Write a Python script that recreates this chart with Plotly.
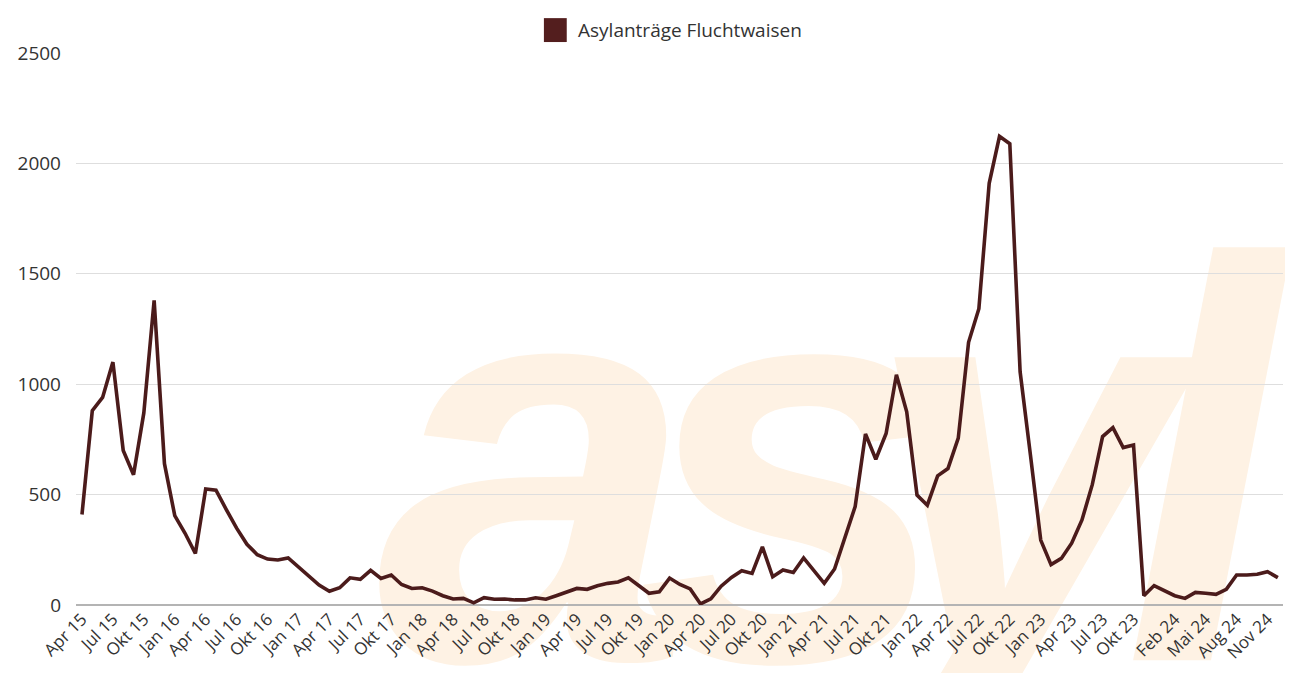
import plotly.graph_objects as go

month_names = ["Jan", "Feb", "Mär", "Apr", "Mai", "Jun", "Jul", "Aug", "Sep", "Okt", "Nov", "Dez"]
months = []
for yr in range(15, 25):
    for m_i, mn in enumerate(month_names):
        if yr == 15 and m_i < 3:
            continue
        months.append(f"{mn} {yr}")

values = [
    410, 880, 940, 1100, 700, 590, 870, 1380, 640, 405,
    325, 233, 525, 520, 432, 348, 275, 228, 208, 204,
    213, 172, 128, 90, 62, 78, 123, 116, 157, 120,
    136, 93, 75, 78, 63, 42, 27, 30, 10, 33,
    26, 27, 23, 23, 33, 26, 42, 57, 75, 71,
    87, 98, 104, 123, 90, 53, 60, 122, 93, 73,
    5, 28, 85, 125, 155, 143, 263, 128, 159, 147,
    213, 154, 98, 163, 300, 446, 775, 660, 777, 1043,
    875, 498, 452, 585, 618, 756, 1190, 1342, 1910, 2123,
    2089, 1056, 680, 294, 183, 211, 280, 385, 545, 763,
    803, 713, 725, 42, 88, 63, 42, 30, 57, 53,
    48, 71, 136, 136, 139, 151, 124,
]

tick_labels = [
    "Apr 15", "Jul 15", "Okt 15", "Jan 16", "Apr 16", "Jul 16", "Okt 16",
    "Jan 17", "Apr 17", "Jul 17", "Okt 17", "Jan 18", "Apr 18", "Jul 18", "Okt 18",
    "Jan 19", "Apr 19", "Jul 19", "Okt 19", "Jan 20", "Apr 20", "Jul 20", "Okt 20",
    "Jan 21", "Apr 21", "Jul 21", "Okt 21", "Jan 22", "Apr 22", "Jul 22", "Okt 22",
    "Jan 23", "Apr 23", "Jul 23", "Okt 23", "Feb 24", "Mai 24", "Aug 24", "Nov 24",
]
y_ticks = [0, 500, 1000, 1500, 2000, 2500]

series_name = "Asylanträge Fluchtwaisen"
watermark_letters = ["a", "s", "y", "l"]
line_color = "#4b1b1b"
text_color = "#333333"

# the page body has an 8px margin; figure coordinates are page coordinates - 8
W, H = 1285, 665
ML, MR, MT, MB = 60, 10, 45, 66
PW, PH = W - ML - MR, H - MT - MB


def px_x(p):
    return (p - ML) / PW


def px_y(p):
    return (H - MB - p) / PH


fig = go.Figure()
fig.add_trace(go.Scatter(
    x=months, y=values, mode="lines", name=series_name,
    line=dict(color=line_color, width=3.6), showlegend=False,
))

# watermark "asyl" behind the chart, one letter at a time
wm_size = 570
wm_cx = [522, 784, 1012, 1194]
wm_cy = 402
for letter, cx in zip(watermark_letters, wm_cx):
    fig.add_shape(
        type="rect", xref="paper", yref="paper", layer="below",
        x0=px_x(cx - 60), x1=px_x(cx + 60), y0=px_y(wm_cy + 60), y1=px_y(wm_cy - 60),
        line=dict(width=0), fillcolor="rgba(0,0,0,0)",
        label=dict(text=letter, textposition="middle center",
                   font=dict(family="Liberation Sans", size=wm_size, color="#fef2e4",
                             weight=700, style="italic")),
    )

# legend
fig.add_shape(
    type="rect", xref="paper", yref="paper",
    x0=px_x(531), x1=px_x(554), y0=px_y(34), y1=px_y(10),
    line=dict(width=0), fillcolor="#531e1e",
)
fig.add_annotation(
    xref="paper", yref="paper", x=px_x(563), y=px_y(22),
    xanchor="left", yanchor="middle", showarrow=False,
    text=series_name, font=dict(family="Open Sans", size=19, color=text_color),
)

fig.update_layout(
    width=W, height=H,
    margin=dict(l=ML, r=MR, t=MT, b=MB, pad=0),
    paper_bgcolor="white", plot_bgcolor="rgba(0,0,0,0)",
    showlegend=False,
    font=dict(family="Open Sans", color=text_color),
)
fig.update_xaxes(
    type="category", categoryorder="array", categoryarray=months,
    range=[-0.58, len(months) - 0.5],
    tickmode="array", tickvals=tick_labels, ticktext=tick_labels,
    tickangle=-45, tickfont=dict(size=17, color=text_color),
    showgrid=False, showline=False, zeroline=False, ticks="",
)
fig.update_yaxes(
    range=[0, 2500], tickmode="array", tickvals=y_ticks,
    tickfont=dict(size=19, color=text_color),
    showgrid=True, gridcolor="#dedede", gridwidth=1,
    zeroline=True, zerolinecolor="#b4b4b4", zerolinewidth=2,
    showline=False, ticks="", ticklabelstandoff=14,
)

fig.write_html("out.html")
